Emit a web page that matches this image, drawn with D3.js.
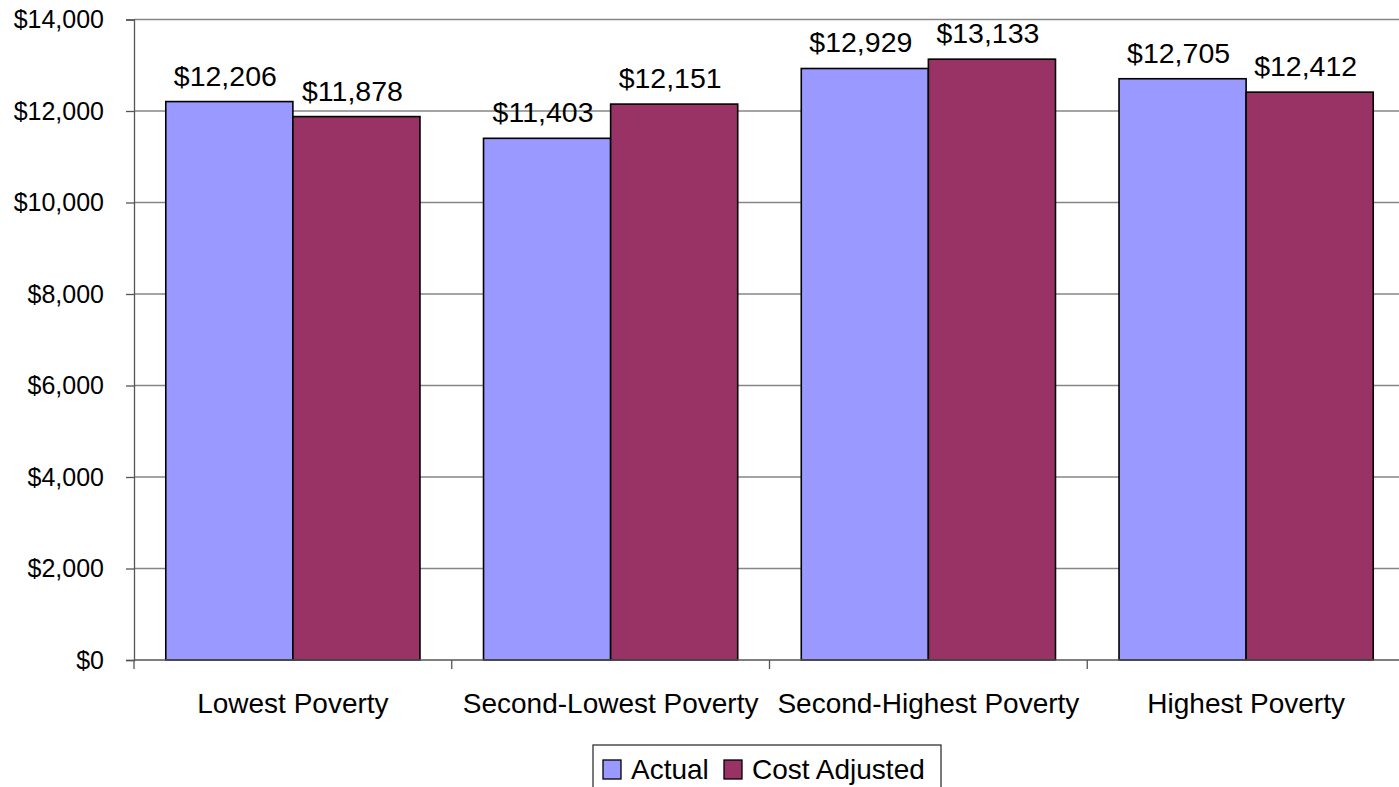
<!DOCTYPE html>
<html>
<head>
<meta charset="utf-8">
<script src="https://cdn.jsdelivr.net/npm/d3@7"></script>
<style>
  html, body { margin: 0; padding: 0; background: #fff; }
  svg { display: block; font-family: "Liberation Sans", Arial, sans-serif; }
</style>
</head>
<body>
<svg id="chart" width="1399" height="787"></svg>
<script>
// Per-pupil spending by district poverty quartile
const categories = ["Lowest Poverty", "Second-Lowest Poverty", "Second-Highest Poverty", "Highest Poverty"];
const seriesNames = ["Actual", "Cost Adjusted"];
const actual = [12206, 11403, 12929, 12705];
const costAdjusted = [11878, 12151, 13133, 12412];
const yTicks = [0, 2000, 4000, 6000, 8000, 10000, 12000, 14000];
const colors = ["#9999FF", "#993366"];

const seriesValues = [actual, costAdjusted];
const rows = categories.map((c, i) => ({
  category: c,
  values: seriesNames.map((s, j) => ({ series: s, value: seriesValues[j][i], color: colors[j] }))
}));

const svg = d3.select("#chart");
const plotLeft = 134, plotRight = 1405, plotTop = 19.5, plotBottom = 660;

const x = d3.scaleBand().domain(categories).range([plotLeft, plotRight])
  .paddingInner(0.2).paddingOuter(0.1);
const xSub = d3.scaleBand().domain(seriesNames).range([0, x.bandwidth()]);
const y = d3.scaleLinear().domain([0, 14000]).range([plotBottom, plotTop]);
const fmt = v => "$" + d3.format(",")(v);

// horizontal gridlines
svg.append("g").selectAll("line").data(yTicks.filter(t => t > 0)).join("line")
  .attr("x1", plotLeft).attr("x2", 1399)
  .attr("y1", d => y(d)).attr("y2", d => y(d))
  .attr("stroke", "#868686").attr("stroke-width", 1.3);

// y axis
const yAxis = svg.append("g").attr("transform", `translate(${plotLeft},0)`)
  .call(d3.axisLeft(y).tickValues(yTicks).tickFormat(fmt).tickSize(8).tickPadding(22));
yAxis.select(".domain").attr("stroke", "#555").attr("stroke-width", 1.3);
yAxis.selectAll(".tick line").attr("stroke", "#555").attr("stroke-width", 1.3);
yAxis.selectAll(".tick text").attr("font-size", 25).attr("fill", "#000")
  .attr("font-family", "Liberation Sans, Arial, sans-serif");

// bars
const groups = svg.append("g").selectAll("g").data(rows).join("g")
  .attr("transform", d => `translate(${x(d.category)},0)`);
groups.selectAll("rect").data(d => d.values).join("rect")
  .attr("x", d => xSub(d.series))
  .attr("y", d => y(d.value))
  .attr("width", xSub.bandwidth())
  .attr("height", d => y(0) - y(d.value))
  .attr("fill", d => d.color)
  .attr("stroke", "#000").attr("stroke-width", 1.6);

// value labels
groups.selectAll("text").data(d => d.values).join("text")
  .attr("x", d => xSub(d.series) + xSub.bandwidth() / 2 - 4)
  .attr("y", d => y(d.value) - 16)
  .attr("text-anchor", "middle")
  .attr("font-size", 28.5).attr("fill", "#000")
  .text(d => fmt(d.value));

// x axis
const xAxisG = svg.append("g").attr("transform", `translate(0,${plotBottom})`);
xAxisG.append("line").attr("x1", plotLeft).attr("x2", 1399).attr("y1", 0).attr("y2", 0)
  .attr("stroke", "#555").attr("stroke-width", 1.3);
const boundaries = categories.map(c => x(c) - x.step() * x.paddingOuter()).concat([plotRight]);
xAxisG.selectAll("line.tick").data(boundaries).join("line").attr("class", "tick")
  .attr("x1", d => d).attr("x2", d => d).attr("y1", 0).attr("y2", 9)
  .attr("stroke", "#555").attr("stroke-width", 1.3);
xAxisG.selectAll("text").data(categories).join("text")
  .attr("x", d => x(d) + x.bandwidth() / 2)
  .attr("y", 53)
  .attr("text-anchor", "middle")
  .attr("font-size", 28).attr("fill", "#000")
  .text(d => d);

// legend
const legend = svg.append("g").attr("transform", "translate(593,745)");
legend.append("rect").attr("x", 0).attr("y", 0).attr("width", 348).attr("height", 60)
  .attr("fill", "#fff").attr("stroke", "#333").attr("stroke-width", 1.3);
const legendX = [10, 131];
const items = legend.selectAll("g").data(seriesNames).join("g")
  .attr("transform", (d, i) => `translate(${legendX[i]},0)`);
items.append("rect").attr("x", 0).attr("y", 15).attr("width", 18).attr("height", 19)
  .attr("fill", (d, i) => colors[i]).attr("stroke", "#000").attr("stroke-width", 1.3);
items.append("text").attr("x", 28).attr("y", 34)
  .attr("font-size", 28).attr("fill", "#000").text(d => d);
</script>
</body>
</html>
